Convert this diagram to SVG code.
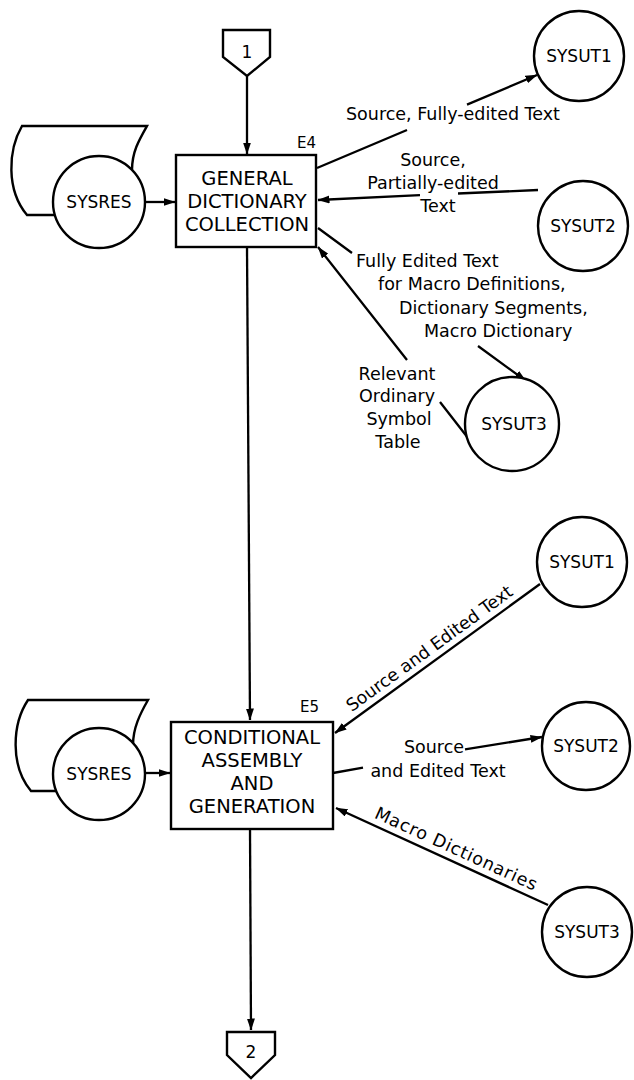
<svg xmlns="http://www.w3.org/2000/svg" width="634" height="1080" viewBox="0 0 634 1080">
<defs>
<marker id="ah" viewBox="0 0 12 8" refX="11.5" refY="4" markerWidth="12" markerHeight="8" markerUnits="userSpaceOnUse" orient="auto"><path d="M0,0 L12,4 L0,8 z" fill="#000"/></marker>
</defs>
<style>
.ln{fill:none;stroke:#000;stroke-width:2.3}
.sh{fill:#fff;stroke:#000;stroke-width:2.4}
.dk{fill:none;stroke:#000;stroke-width:2.4}
.bx{font-family:"DejaVu Sans",sans-serif;font-size:19.5px;text-anchor:middle;fill:#000}
.lb{font-family:"DejaVu Sans",sans-serif;font-size:17.5px;fill:#000}
.c{text-anchor:middle}
.cl{font-family:"DejaVu Sans",sans-serif;font-size:17px;text-anchor:middle;fill:#000}
.id{font-family:"DejaVu Sans",sans-serif;font-size:15px;fill:#000}
</style>
<rect width="634" height="1080" fill="#fff"/>

<g id="connectors">
<path class="ln" d="M247,76 L247,154" marker-end="url(#ah)"/>
<path class="ln" d="M145,202 L175,202" marker-end="url(#ah)"/>
<path class="ln" d="M317,168 L407,130 M467,104.6 L537,75" marker-end="url(#ah)"/>
<path class="ln" d="M538,190 L458,193.5 M420,195.2 L318,200" marker-end="url(#ah)"/>
<path class="ln" d="M318,228 L352,253 M478,346 L526,381" marker-end="url(#ah)"/>
<path class="ln" d="M468,438 L440,402 M407,360 L318,247" marker-end="url(#ah)"/>
<path class="ln" d="M247,247 L250,720" marker-end="url(#ah)"/>
<path class="ln" d="M145,773 L170,773" marker-end="url(#ah)"/>
<path class="ln" d="M540,584 L335,733" marker-end="url(#ah)"/>
<path class="ln" d="M333,773 L363,767.6 M465,749.4 L542,737" marker-end="url(#ah)"/>
<path class="ln" d="M548,905 L336,808" marker-end="url(#ah)"/>
<path class="ln" d="M250,829 L251,1030" marker-end="url(#ah)"/>
</g>

<g id="conn-1">
<polygon class="sh" points="223,30 270,30 270,57 247,76 223,57"/>
<text class="cl" x="247" y="58">1</text>
</g>

<g id="box-e4">
<rect class="sh" x="176" y="155" width="140" height="92" stroke-width="2.6"/>
<text class="bx" x="247" y="185">GENERAL</text>
<text class="bx" x="247" y="208">DICTIONARY</text>
<text class="bx" x="247" y="231">COLLECTION</text>
<text class="id" x="297" y="148">E4</text>
</g>

<g id="sysres-1">
<path class="dk" d="M56,215 L27,215 C6,190 8,150 22,126 L147,126 C139,140 132,152 132,170"/>
<circle class="sh" cx="99" cy="202" r="46"/>
<text class="cl" x="99" y="208">SYSRES</text>
</g>

<g id="sysut1-a">
<circle class="sh" cx="579" cy="56" r="45"/>
<text class="cl" x="579" y="62">SYSUT1</text>
</g>

<g id="sysut2-a">
<circle class="sh" cx="583" cy="226" r="45"/>
<text class="cl" x="583" y="232">SYSUT2</text>
</g>

<g id="sysut3-a">
<circle class="sh" cx="512" cy="424" r="47"/>
<text class="cl" x="514" y="430">SYSUT3</text>
</g>

<g id="box-e5">
<rect class="sh" x="171" y="722" width="162" height="107" stroke-width="2.6"/>
<text class="bx" x="252" y="744">CONDITIONAL</text>
<text class="bx" x="252" y="767">ASSEMBLY</text>
<text class="bx" x="252" y="790">AND</text>
<text class="bx" x="252" y="813">GENERATION</text>
<text class="id" x="300" y="712">E5</text>
</g>

<g id="sysres-2">
<path class="dk" d="M56,791 L31,791 C10,766 12,724 28,700 L148,700 C140,714 133,728 133,745"/>
<circle class="sh" cx="99" cy="774" r="46"/>
<text class="cl" x="99" y="780">SYSRES</text>
</g>

<g id="sysut1-b">
<circle class="sh" cx="582" cy="562" r="45"/>
<text class="cl" x="582" y="568">SYSUT1</text>
</g>

<g id="sysut2-b">
<circle class="sh" cx="586" cy="746" r="44"/>
<text class="cl" x="586" y="752">SYSUT2</text>
</g>

<g id="sysut3-b">
<circle class="sh" cx="587" cy="932" r="45"/>
<text class="cl" x="587" y="938">SYSUT3</text>
</g>

<g id="conn-2">
<polygon class="sh" points="227,1032 275,1032 275,1055 251,1078 227,1055"/>
<text class="cl" x="251" y="1058">2</text>
</g>

<g id="labels">
<text class="lb c" x="453" y="120">Source, Fully-edited Text</text>
<text class="lb c" x="433" y="166">Source,</text>
<text class="lb c" x="433" y="189">Partially-edited</text>
<text class="lb c" x="438" y="212">Text</text>
<text class="lb" x="356" y="267">Fully Edited Text</text>
<text class="lb" x="378" y="290">for Macro Definitions,</text>
<text class="lb" x="399" y="314">Dictionary Segments,</text>
<text class="lb" x="424" y="337">Macro Dictionary</text>
<text class="lb c" x="397" y="380">Relevant</text>
<text class="lb c" x="397" y="402">Ordinary</text>
<text class="lb c" x="399" y="425">Symbol</text>
<text class="lb c" x="398" y="448">Table</text>
<text class="lb c" transform="translate(437,659) rotate(-36)" x="0" y="-7">Source and Edited Text</text>
<text class="lb c" x="434" y="753">Source</text>
<text class="lb c" x="438" y="777">and Edited Text</text>
<text class="lb c" transform="translate(451,860.6) rotate(24.6)" x="0" y="-7" letter-spacing="0.8">Macro Dictionaries</text>
</g>
</svg>
